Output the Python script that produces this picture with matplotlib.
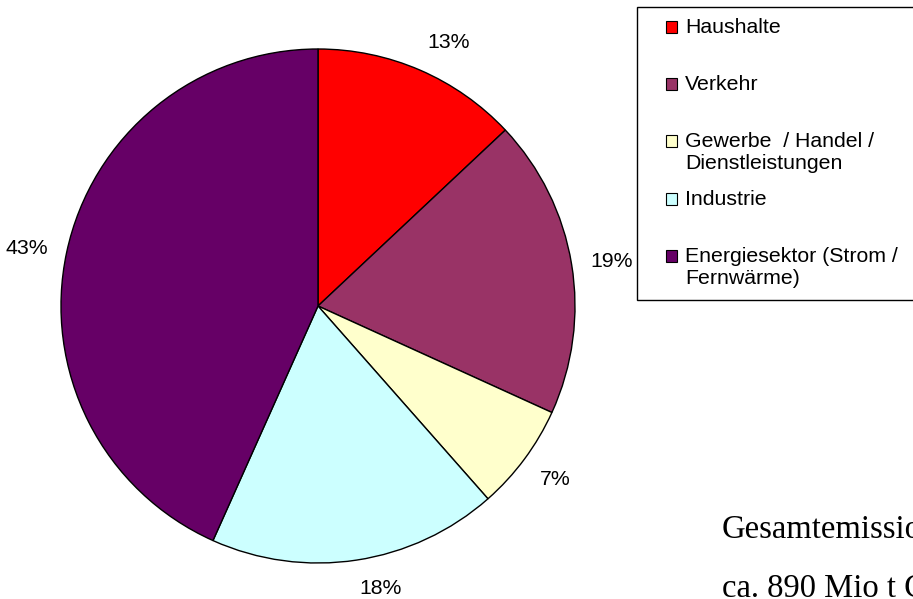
import numpy as np
import matplotlib.pyplot as plt
from matplotlib.patches import Rectangle

# Anteile der CO2-Emissionen nach Sektoren
sektoren = ['Haushalte', 'Verkehr', 'Gewerbe  / Handel /\nDienstleistungen',
            'Industrie', 'Energiesektor (Strom /\nFernwärme)']
anteile = [13.0, 18.8, 6.7, 18.2, 43.3]
beschriftung = ['13%', '19%', '7%', '18%', '43%']
farben = ['#FF0000', '#993366', '#FFFFCC', '#CCFFFF', '#660066']

W, H = 913, 599
fig = plt.figure(figsize=(W / 100, H / 100), dpi=100)

# Kreis: Mittelpunkt (318, 306) px, Radius 257 px
cx, cy, r = 318, 306, 257
ax = fig.add_axes([(cx - r) / W, (H - cy - r) / H, 2 * r / W, 2 * r / H])
wedges, texts = ax.pie(anteile, labels=beschriftung, colors=farben, startangle=90,
                       counterclock=False, labeldistance=1.075,
                       wedgeprops=dict(edgecolor='black', linewidth=1.0),
                       textprops=dict(fontsize=15.3, family='Liberation Sans'))
ax.set_xlim(-1, 1)
ax.set_ylim(-1, 1)
ax.set_aspect('equal')

# Beschriftungen wie in Excel: nächste Ecke des Textes am Kreisrand
for t in texts:
    x, y = t.get_position()
    s = y / np.hypot(x, y)
    if s > 0.5:
        t.set_va('bottom')
    elif s < -0.5:
        t.set_va('top')
    else:
        t.set_va('center')

# Legende (manuell, wie im Original)
def fx(px):
    return px / W

def fy(py):
    return 1 - py / H

fig.patches.append(Rectangle((fx(637), fy(300)), fx(400), 293 / H, transform=fig.transFigure,
                             facecolor='white', edgecolor='black', linewidth=1.0))
marker_y = [21, 78, 135, 193, 250]
for name, col, my in zip(sektoren, farben, marker_y):
    fig.patches.append(Rectangle((fx(666), fy(my + 12)), 11 / W, 12 / H, transform=fig.transFigure,
                                 facecolor=col, edgecolor='black', linewidth=0.8))
    for i, line in enumerate(name.split('\n')):
        fig.text(fx(685), fy(my + 12 + 22 * i), line, fontsize=15.3, family='Liberation Sans',
                 va='baseline', ha='left')

fig.text(fx(722), fy(538), 'Gesamtemissionen', fontsize=23.5, family='Liberation Serif',
         va='baseline', ha='left')
fig.text(fx(722), fy(597), 'ca. 890 Mio t CO2', fontsize=23.5, family='Liberation Serif',
         va='baseline', ha='left')

fig.savefig('out.png', dpi=100)
